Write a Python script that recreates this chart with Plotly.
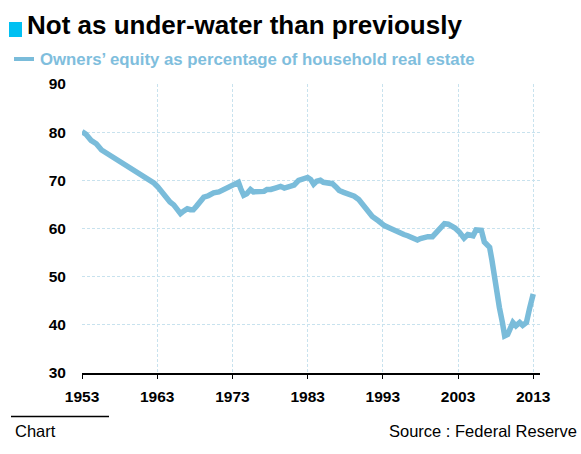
import plotly.graph_objects as go

years = [1953.0, 1953.5, 1954.2, 1954.9, 1955.6, 1956.3, 1956.9, 1957.6, 1958.2, 1958.9,
         1959.6, 1960.3, 1960.9, 1961.5, 1962.0, 1962.6, 1963.1, 1963.6, 1964.2, 1964.7,
         1965.2, 1965.6, 1966.1, 1966.5, 1967.0, 1967.4, 1967.8, 1968.2, 1968.7, 1969.2,
         1969.8, 1970.5, 1971.2, 1971.8, 1972.4, 1972.9, 1973.4, 1973.8, 1974.1, 1974.5,
         1974.9, 1975.4, 1975.8, 1976.3, 1976.7, 1977.2, 1977.6, 1978.1, 1978.7, 1979.4,
         1979.9, 1980.3, 1980.8, 1981.2, 1981.8, 1982.4, 1983.0, 1983.4, 1983.8, 1984.2,
         1984.7, 1985.1, 1985.6, 1986.3, 1986.8, 1987.2, 1987.8, 1988.3, 1989.2, 1989.8,
         1990.3, 1990.7, 1991.2, 1991.6, 1992.4, 1993.2, 1993.9, 1994.5, 1995.2, 1995.8,
         1996.3, 1996.7, 1997.2, 1997.6, 1998.0, 1998.5, 1999.0, 1999.6, 2000.0, 2000.5,
         2000.8, 2001.2, 2001.7, 2002.1, 2002.6, 2003.2, 2003.8, 2004.3, 2004.7, 2005.0,
         2005.4, 2005.8, 2006.1, 2006.5, 2006.8, 2007.2, 2007.5, 2007.8, 2008.2, 2008.5,
         2008.9, 2009.2, 2009.6, 2010.0, 2010.3, 2010.7, 2011.2, 2011.6, 2012.1, 2012.5,
         2013.0]
equity_pct = [80.1, 79.6, 78.3, 77.6, 76.3, 75.6, 75.0, 74.5, 73.8, 73.0,
              72.3, 71.7, 71.0, 70.6, 70.0, 69.4, 68.6, 67.6, 66.3, 65.5,
              64.9, 64.2, 63.1, 63.6, 64.1, 63.9, 63.9, 64.6, 65.5, 66.5,
              66.8, 67.4, 67.6, 68.1, 68.5, 69.0, 69.3, 69.6, 68.3, 66.9,
              67.2, 68.1, 67.6, 67.6, 67.8, 67.7, 68.1, 68.1, 68.4, 68.75,
              68.4, 68.6, 68.8, 69.0, 70.0, 70.3, 70.6, 70.2, 69.2, 69.8,
              70.0, 69.6, 69.4, 69.3, 68.6, 67.9, 67.5, 67.2, 66.7, 66.0,
              65.0, 64.1, 63.2, 62.5, 61.6, 60.6, 60.1, 59.6, 59.2, 58.75,
              58.5, 58.2, 58.0, 57.6, 57.9, 58.2, 58.3, 58.3, 58.9, 59.9,
              60.4, 61.0, 60.9, 60.6, 60.1, 59.2, 58.0, 58.75, 58.6, 58.5,
              59.7, 59.7, 59.6, 57.2, 56.8, 56.1, 53.5, 49.9, 46.5, 43.6,
              40.5, 37.7, 38.0, 39.5, 40.5, 39.8, 40.5, 39.9, 40.5, 43.3,
              46.4]
x_ticks = [1953, 1963, 1973, 1983, 1993, 2003, 2013]
y_ticks = [30, 40, 50, 60, 70, 80, 90]

title = "Not as under-water than previously"
series_name = "Owners\u2019 equity as percentage of household real estate"
footer_left = "Chart"
footer_right = "Source : Federal Reserve"

W, H = 581, 454
L, R, T, B = 82, 41, 84, 81
PW, PH = W - L - R, H - T - B

def px(x):
    return (x - L) / PW

def py(y):
    return (H - B - y) / PH

FONT = "Liberation Sans, Arial, sans-serif"
LINE_COLOR = "rgb(122,188,218)"
GRID = "rgb(200,226,238)"

fig = go.Figure()
fig.add_trace(go.Scatter(x=years, y=equity_pct, mode="lines",
                         line=dict(color=LINE_COLOR, width=5.5), showlegend=False))

fig.update_layout(
    width=W, height=H,
    margin=dict(l=L, r=R, t=T, b=B),
    paper_bgcolor="white", plot_bgcolor="white",
    xaxis=dict(range=[1953, 2013.9], tickvals=x_ticks, ticktext=[str(v) for v in x_ticks],
               showgrid=True, gridcolor=GRID, griddash="3px,2px", gridwidth=1,
               showline=True, linecolor="black", linewidth=1.5,
               ticks="outside", ticklen=4, tickcolor="black", tickwidth=1,
               zeroline=False, ticklabelstandoff=5,
               tickfont=dict(family=FONT, size=15.5, color="black", weight="bold")),
    yaxis=dict(range=[30, 90], tickvals=y_ticks,
               showgrid=True, gridcolor=GRID, griddash="3px,2px", gridwidth=1,
               showline=False, zeroline=False, ticks="", ticklabelstandoff=15,
               tickfont=dict(family=FONT, size=15.5, color="black", weight="bold")),
    shapes=[
        dict(type="rect", xref="paper", yref="paper",
             x0=px(9), x1=px(22), y0=py(37), y1=py(22),
             fillcolor="rgb(0,192,242)", line=dict(width=0)),
        dict(type="line", xref="paper", yref="paper",
             x0=px(14), x1=px(34), y0=py(59), y1=py(59),
             line=dict(color=LINE_COLOR, width=4)),
        dict(type="line", xref="paper", yref="paper",
             x0=px(11), x1=px(109), y0=py(416.5), y1=py(416.5),
             line=dict(color="black", width=1.5)),
    ],
    annotations=[
        dict(text=title, xref="paper", yref="paper", x=px(25), y=py(25),
             xanchor="left", yanchor="middle", showarrow=False,
             font=dict(family=FONT, size=26, color="black", weight="bold")),
        dict(text=series_name, xref="paper", yref="paper", x=px(38), y=py(59),
             xanchor="left", yanchor="middle", showarrow=False,
             font=dict(family=FONT, size=16.8, color="rgb(127,190,221)", weight="bold")),
        dict(text=footer_left, xref="paper", yref="paper", x=px(13), y=py(431),
             xanchor="left", yanchor="middle", showarrow=False,
             font=dict(family=FONT, size=16.5, color="black")),
        dict(text=footer_right, xref="paper", yref="paper", x=px(579), y=py(431),
             xanchor="right", yanchor="middle", showarrow=False,
             font=dict(family=FONT, size=16.5, color="black")),
    ],
)

fig.write_html("out.html", config={"displayModeBar": False},
               post_script="document.body.style.margin='0';document.body.style.padding='0';")
